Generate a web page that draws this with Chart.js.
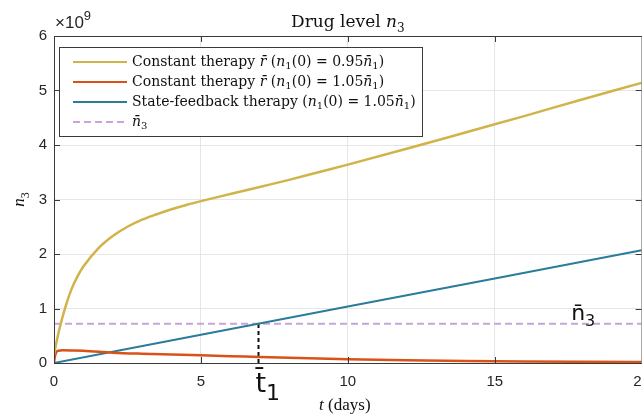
<!DOCTYPE html>
<html>
<head>
<meta charset="utf-8">
<script src="https://cdn.jsdelivr.net/npm/chart.js@4.4.1/dist/chart.umd.min.js"></script>
<style>
  html, body { margin: 0; padding: 0; overflow: hidden; background: #fff; }
  #wrap { width: 660px; height: 419px; }
</style>
</head>
<body>
<div id="wrap"><canvas id="myChart" width="660" height="419"></canvas></div>
<script>
// drug level n3, values in units of 10^9
var tYellow = [0, 0.1, 0.2, 0.4, 0.6, 0.8, 1, 1.5, 2, 2.5, 3, 3.5, 4, 4.5, 5, 6, 7, 8, 9, 10, 12, 14, 16, 18, 20];
var nYellow = [0.15, 0.42, 0.66, 1.05, 1.36, 1.59, 1.77, 2.1, 2.33, 2.5, 2.63, 2.73, 2.82, 2.9, 2.97, 3.1, 3.23, 3.36, 3.5, 3.64, 3.93, 4.23, 4.53, 4.84, 5.14];

var tOrange = [0, 0.03, 0.08, 0.15, 0.3, 0.6, 1, 2, 3, 4, 5, 6, 7, 8, 10, 12, 14, 16, 18, 20];
var nOrange = [0, 0.12, 0.2, 0.225, 0.232, 0.23, 0.225, 0.19, 0.17, 0.155, 0.14, 0.125, 0.11, 0.095, 0.07, 0.05, 0.037, 0.028, 0.022, 0.018];

var tBlue = [0, 5, 10, 15, 20];
var nBlue = [0, 0.52, 1.035, 1.55, 2.07];

var nBar3 = 0.72;
var tBar1 = 6.96;

var xTicks = [0, 5, 10, 15, 20];
var yTicks = [0, 1, 2, 3, 4, 5, 6];

var labels = [
  "Constant therapy r\u0304 (n\u2081(0) = 0.95n\u0304\u2081)",
  "Constant therapy r\u0304 (n\u2081(0) = 1.05n\u0304\u2081)",
  "State-feedback therapy (n\u2081(0) = 1.05n\u0304\u2081)",
  "n\u0304\u2083"
];
var colors = ["#d0b44a", "#d95319", "#2b7b9a", "#c9a3da"];

var SERIF = '"Liberation Serif", "DejaVu Serif", serif';
var WIDESERIF = '"DejaVu Serif", serif';
var SANS = '"Liberation Sans", Arial, sans-serif';
var subDigits = "\u2080\u2081\u2082\u2083\u2084\u2085\u2086\u2087\u2088\u2089";

function pts(xs, ys) {
  return xs.map(function(x, i) { return { x: x, y: ys[i] }; });
}

// draw a list of [text, italic] runs, subscript digits smaller and lowered
function drawRuns(ctx, runs, x, y, size, align, family, subScale) {
  family = family || SERIF;
  subScale = subScale || 0.72;
  var pieces = [];
  var total = 0;
  runs.forEach(function(r) {
    var parts = r[0].match(/[\u2080-\u2089]+|[^\u2080-\u2089]+/g) || [];
    parts.forEach(function(p) {
      var sub = subDigits.indexOf(p[0]) >= 0;
      var str = sub ? p.split("").map(function(c) { return subDigits.indexOf(c); }).join("") : p;
      var font = (r[1] && !sub ? "italic " : "") + (sub ? Math.round(size * subScale) : size) + "px " + family;
      ctx.font = font;
      var w = ctx.measureText(str).width;
      pieces.push({ str: str, font: font, w: w, dy: sub ? size * 0.28 : 0 });
      total += w;
    });
  });
  var cx = align == "center" ? x - total / 2 : x;
  ctx.textAlign = "left";
  pieces.forEach(function(p) {
    ctx.font = p.font;
    ctx.fillText(p.str, cx, y + p.dy);
    cx += p.w;
  });
  return total;
}

// plain words roman, the math part with italic letters
function labelRuns(label) {
  var k = label.search(/[a-z]\u0304|\(/);
  if (k < 0) return [[label, false]];
  var runs = [[label.slice(0, k), false]];
  label.slice(k).match(/[a-zA-Z]\u0304?|[^a-zA-Z]+/g).forEach(function(tok) {
    runs.push([tok, /[a-zA-Z]/.test(tok[0])]);
  });
  return runs;
}

var decor = {
  id: "decor",
  afterDraw: function(chart) {
    var ctx = chart.ctx;
    var a = chart.chartArea;
    var xs = chart.scales.x, ys = chart.scales.y;
    ctx.save();

    // box and inward ticks
    ctx.strokeStyle = "#3a3a3a";
    ctx.lineWidth = 1;
    ctx.strokeRect(a.left + 0.5, a.top + 0.5, a.right - a.left, a.bottom - a.top);
    ctx.beginPath();
    xTicks.forEach(function(v) {
      var px = Math.round(xs.getPixelForValue(v)) + 0.5;
      ctx.moveTo(px, a.bottom); ctx.lineTo(px, a.bottom - 6);
      ctx.moveTo(px, a.top); ctx.lineTo(px, a.top + 6);
    });
    yTicks.forEach(function(v) {
      var py = Math.round(ys.getPixelForValue(v)) + 0.5;
      ctx.moveTo(a.left, py); ctx.lineTo(a.left + 6, py);
      ctx.moveTo(a.right, py); ctx.lineTo(a.right - 6, py);
    });
    ctx.stroke();

    // legend
    var lx = 59, ly = 47, lw = 363, lh = 89;
    ctx.fillStyle = "#fff";
    ctx.fillRect(lx, ly, lw, lh);
    ctx.strokeStyle = "#3a3a3a";
    ctx.strokeRect(lx + 0.5, ly + 0.5, lw, lh);
    ctx.textBaseline = "middle";
    chart.data.datasets.slice(0, 4).forEach(function(ds, i) {
      var ry = 62 + i * 20;
      ctx.strokeStyle = ds.borderColor;
      ctx.lineWidth = 2;
      ctx.setLineDash(ds.borderDash || []);
      ctx.beginPath();
      ctx.moveTo(73, ry); ctx.lineTo(127, ry);
      ctx.stroke();
      ctx.setLineDash([]);
      ctx.fillStyle = "#111";
      drawRuns(ctx, labelRuns(ds.label), 132, ry, 14, "left", WIDESERIF);
    });

    // title, exponent, axis titles
    ctx.fillStyle = "#111";
    ctx.textBaseline = "alphabetic";
    drawRuns(ctx, [["Drug level ", false], ["n", true], ["\u2083", false]], (a.left + a.right) / 2, 27, 17, "center", WIDESERIF);
    drawRuns(ctx, [["t", true], [" (days)", false]], (a.left + a.right) / 2 - 3, 410, 17, "center");
    ctx.save();
    ctx.translate(24, (a.top + a.bottom) / 2);
    ctx.rotate(-Math.PI / 2);
    drawRuns(ctx, [["n", true], ["\u2083", false]], 0, 0, 17, "center");
    ctx.restore();

    ctx.fillStyle = "#262626";
    ctx.font = "17px " + SANS;
    var ew = ctx.measureText("\u00d710").width;
    ctx.fillText("\u00d710", a.left + 1, 28);
    ctx.font = "13px " + SANS;
    ctx.fillText("9", a.left + 1 + ew, 20);

    // annotations
    ctx.fillStyle = "#111";
    drawRuns(ctx, [["n\u0304", false], ["\u2083", false]], xs.getPixelForValue(17.6), ys.getPixelForValue(nBar3) - 4, 22, "left", '"DejaVu Sans", sans-serif');
    drawRuns(ctx, [["t\u0304", false], ["\u2081", false]], xs.getPixelForValue(tBar1) - 3, 392, 27, "left", '"DejaVu Sans", sans-serif', 0.8);
    ctx.restore();
  }
};

var ctx = document.getElementById("myChart");

var chart = new Chart(ctx, {
  type: "line",
  data: {
    datasets: [
      { label: labels[0], data: pts(tYellow, nYellow), borderColor: colors[0], borderWidth: 2.5, cubicInterpolationMode: "monotone" },
      { label: labels[1], data: pts(tOrange, nOrange), borderColor: colors[1], borderWidth: 2.5, cubicInterpolationMode: "monotone" },
      { label: labels[2], data: pts(tBlue, nBlue), borderColor: colors[2], borderWidth: 2 },
      { label: labels[3], data: pts([0, 20], [nBar3, nBar3]), borderColor: colors[3], borderWidth: 1.8, borderDash: [7, 4] },
      { label: "t1", data: pts([tBar1, tBar1], [0, nBar3]), borderColor: "#111", borderWidth: 2, borderDash: [4, 3] }
    ]
  },
  options: {
    responsive: false,
    animation: false,
    devicePixelRatio: 1,
    layout: { padding: { top: 36, right: 17, left: 0, bottom: 0 } },
    elements: { point: { radius: 0 }, line: { fill: false } },
    plugins: {
      legend: { display: false },
      title: { display: false },
      tooltip: { enabled: false }
    },
    scales: {
      x: {
        type: "linear", min: 0, max: 20,
        afterBuildTicks: function(s) { s.ticks = xTicks.map(function(v) { return { value: v }; }); },
        ticks: { color: "#262626", font: { family: SANS, size: 15 }, padding: 10, maxRotation: 0 },
        grid: { color: "#e6e6e6", drawTicks: false },
        border: { display: false },
        afterFit: function(s) { s.height = 56; }
      },
      y: {
        min: 0, max: 6,
        afterBuildTicks: function(s) { s.ticks = yTicks.map(function(v) { return { value: v }; }); },
        ticks: { color: "#262626", font: { family: SANS, size: 15 }, padding: 7 },
        grid: { color: "#e6e6e6", drawTicks: false },
        border: { display: false },
        afterFit: function(s) { s.width = 54; }
      }
    }
  },
  plugins: [decor]
});
</script>
</body>
</html>
